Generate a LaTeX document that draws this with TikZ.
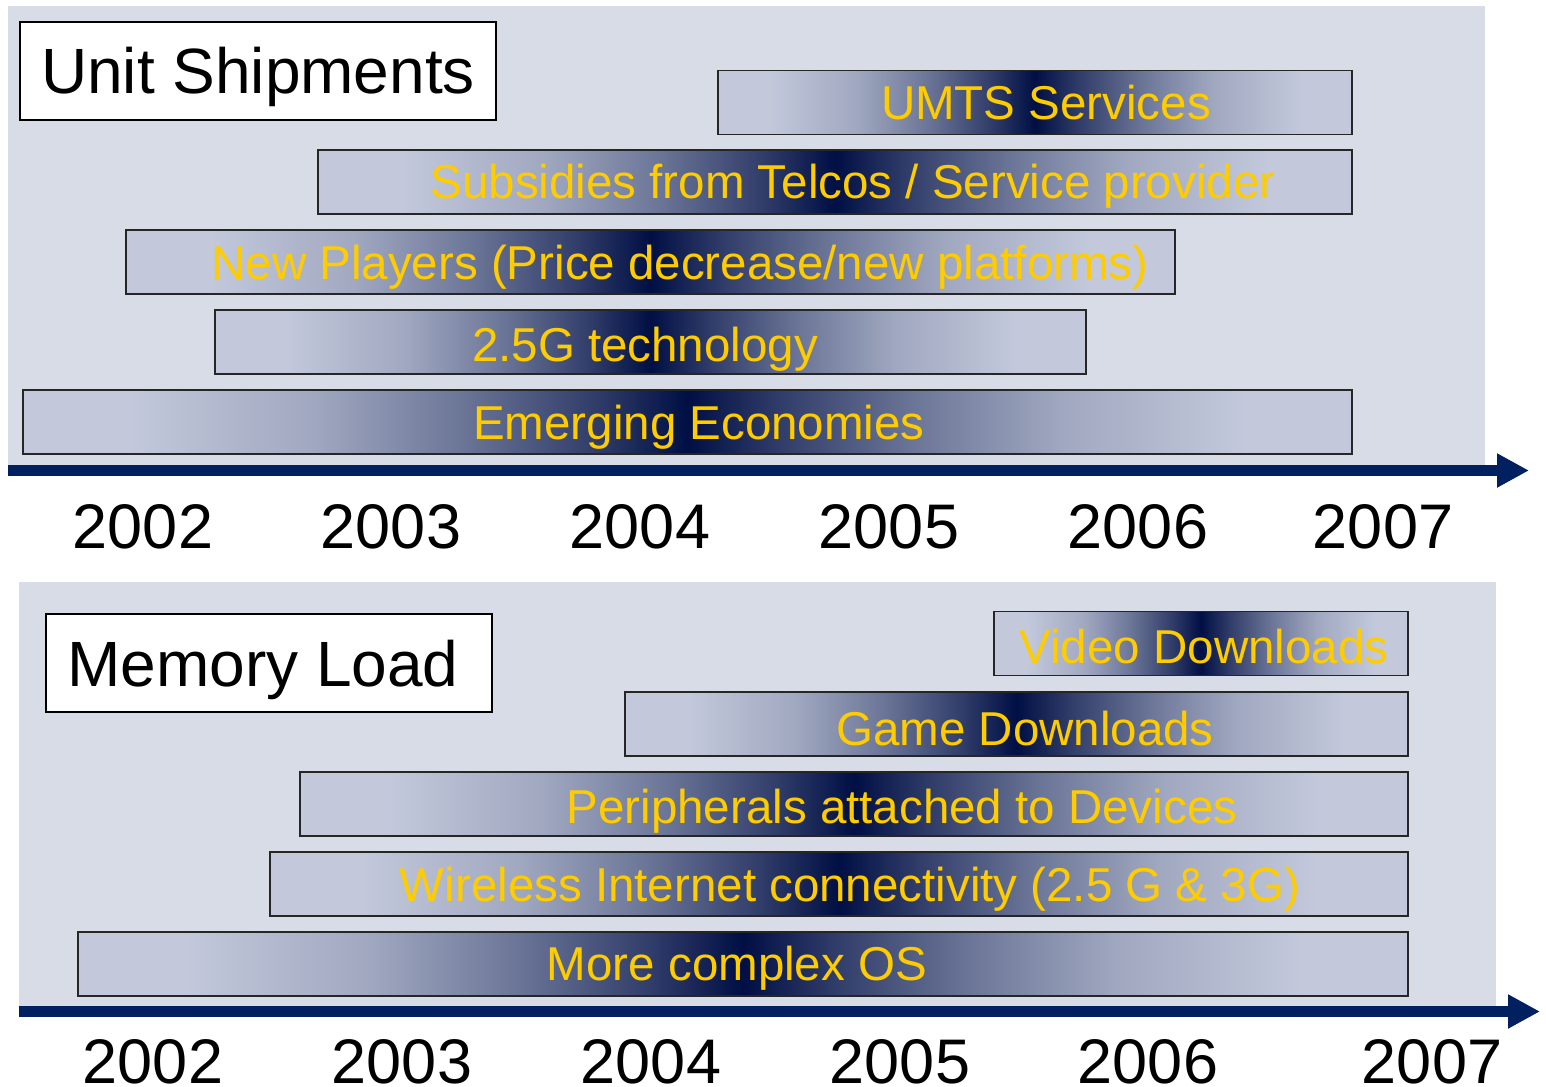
\documentclass[tikz,border=0pt]{standalone}
\usepackage{fontspec}
\setmainfont{Liberation Sans}
\usepackage{xcolor}
\usetikzlibrary{arrows.meta, positioning}
\definecolor{panelgray}{RGB}{216,220,231}
\definecolor{barlight}{RGB}{195,201,219}
\definecolor{bardark}{RGB}{0,15,68}
\definecolor{axisblue}{RGB}{0,32,96}
\definecolor{labelgold}{RGB}{255,204,0}
\colorlet{barmidA}{barlight!82!bardark}
\colorlet{barmidB}{barlight!55!bardark}
\colorlet{barmidC}{barlight!25!bardark}
\pgfdeclarehorizontalshading{timebar}{100bp}{color(0bp)=(barlight); color(25bp)=(barlight); color(29bp)=(barlight);
  color(36bp)=(barmidA); color(41.5bp)=(barmidB); color(46.5bp)=(barmidC); color(50bp)=(bardark);
  color(53.5bp)=(barmidC); color(58.5bp)=(barmidB); color(64bp)=(barmidA); color(71bp)=(barlight);
  color(75bp)=(barlight); color(100bp)=(barlight)}

\begin{document}
\begin{tikzpicture}[
  x=1pt, y=-1pt,
  tbar/.style={rectangle, draw=black!85, line width=1.4pt, shading=timebar,
               minimum height=64pt, inner sep=0pt},
  tlabel/.style={font=\fontsize{47.5}{50}\selectfont, text=labelgold,
                 text height=34pt, text depth=0pt, inner sep=0pt},
  titlebox/.style={rectangle, draw=black, fill=white, line width=1.4pt,
                   minimum height=98pt, inner sep=0pt,
                   font=\fontsize{64}{70}\selectfont, text height=46pt, text depth=0pt},
  year/.style={font=\fontsize{63}{70}\selectfont, text height=45pt, text depth=0pt, inner sep=0pt},
  timeaxis/.style={line width=10.5pt, axisblue, -{Triangle[length=32pt, width=32pt]}}
]
\useasboundingbox (0,0) rectangle (1546,1086);

% panels
\fill[panelgray] (8,6) rectangle (1485,465);
\fill[panelgray] (19,582) rectangle (1496,1006);

% unit shipments
\node[titlebox, minimum width=476pt] (units) at (258,71) {Unit Shipments};

\node[tbar, minimum width=634pt] (umts) at (1035,102.5) {};
\node[tlabel] (umtslabel) at (1046,102.5) {UMTS Services};
\node[tbar, minimum width=1034pt] (subsidies) at (835,182) {};
\node[tlabel] (subsidieslabel) at (853,182) {Subsidies from Telcos / Service provider};
\node[tbar, minimum width=1049pt] (players) at (650.5,262) {};
\node[tlabel] (playerslabel) at (680,262) {New Players (Price decrease/new platforms)};
\node[tbar, minimum width=871pt] (gtech) at (650.5,342) {};
\node[tlabel] (gtechlabel) at (645,344) {2.5G technology};
\node[tbar, minimum width=1329pt] (economies) at (687.5,422) {};
\node[tlabel] (economieslabel) at (699,422) {Emerging Economies};

\coordinate (topstart) at (8,470.5);
\coordinate (topend) at (1529,470.5);
\draw[timeaxis] (topstart) -- (topend);

\foreach \yr/\xx in {2002/143, 2003/391, 2004/640, 2005/889, 2006/1138, 2007/1383}
  \node[year] (top\yr) at (\xx,525.5) {\yr};

% memory load
\node[titlebox, minimum width=446pt] (memory) at (269,663) {};
\node[font=\fontsize{64}{70}\selectfont, text height=46pt, text depth=0pt, inner sep=0pt]
  (memorylabel) at (263,663) {Memory Load};

\node[tbar, minimum width=414pt] (video) at (1201,643.5) {};
\node[tlabel] (videolabel) at (1204,646) {Video Downloads};
\node[tbar, minimum width=783pt] (games) at (1016.5,724) {};
\node[tlabel] (gameslabel) at (1025,728) {Game Downloads};
\node[tbar, minimum width=1108pt] (peripherals) at (854,804) {};
\node[tlabel] (peripheralslabel) at (902,806) {Peripherals attached to Devices};
\node[tbar, minimum width=1138pt] (wireless) at (839,884) {};
\node[tlabel] (wirelesslabel) at (850,884) {Wireless Internet connectivity (2.5 G \& 3G)};
\node[tbar, minimum width=1330pt] (complexos) at (743,964) {};
\node[tlabel] (complexoslabel) at (737,963) {More complex OS};

\coordinate (bottomstart) at (19,1011.5);
\coordinate (bottomend) at (1540,1011.5);
\draw[timeaxis] (bottomstart) -- (bottomend);

\foreach \yr/\xx in {2002/153, 2003/402, 2004/651, 2005/900, 2006/1148, 2007/1432}
  \node[year] (bottom\yr) at (\xx,1060.5) {\yr};
\end{tikzpicture}
\end{document}
